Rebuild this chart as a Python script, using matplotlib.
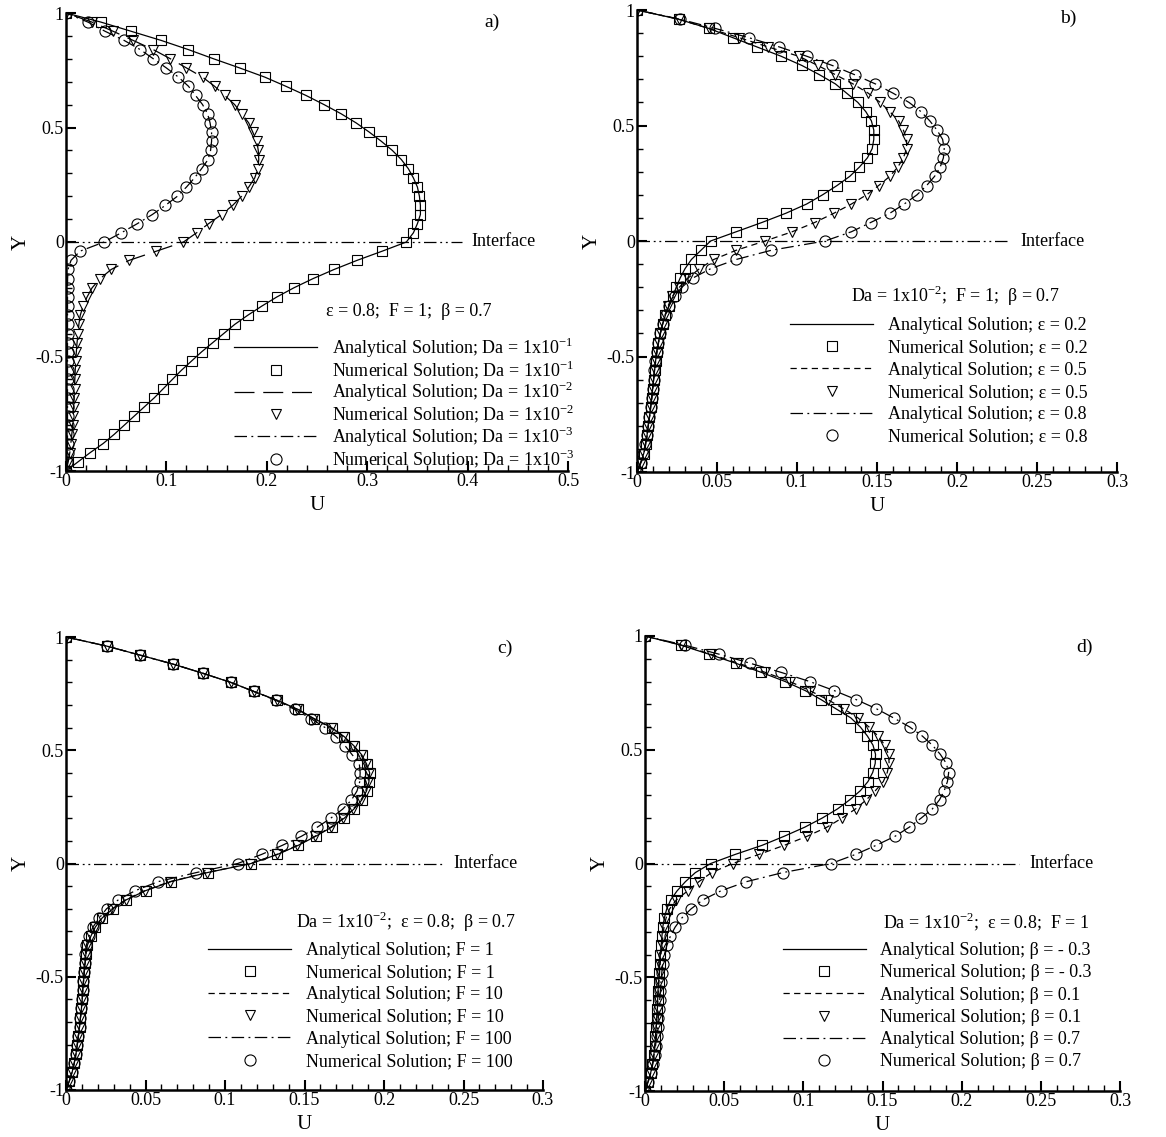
import numpy as np
import matplotlib
matplotlib.use("Agg")
import matplotlib.pyplot as plt
from matplotlib.ticker import MultipleLocator, FuncFormatter

plt.rcParams['font.family'] = ['Liberation Serif', 'DejaVu Serif']
plt.rcParams['mathtext.fontset'] = 'custom'
plt.rcParams['mathtext.rm'] = 'Liberation Serif'
plt.rcParams['axes.unicode_minus'] = False

# Y positions of the grid nodes
y_nodes = [-1.00, -0.96, -0.92, -0.88, -0.84, -0.80, -0.76, -0.72, -0.68, -0.64,
           -0.60, -0.56, -0.52, -0.48, -0.44, -0.40, -0.36, -0.32, -0.28, -0.24,
           -0.20, -0.16, -0.12, -0.08, -0.04, 0.00, 0.04, 0.08, 0.12, 0.16,
           0.20, 0.24, 0.28, 0.32, 0.36, 0.40, 0.44, 0.48, 0.52, 0.56,
           0.60, 0.64, 0.68, 0.72, 0.76, 0.80, 0.84, 0.88, 0.92, 0.96, 1.00]

# a) effect of Da  (eps = 0.8, F = 1, beta = 0.7)
u_da1 = [0, 0.012, 0.024, 0.037, 0.048, 0.058, 0.068, 0.078, 0.088, 0.097,
         0.106, 0.115, 0.125, 0.135, 0.146, 0.157, 0.168, 0.181, 0.195, 0.210,
         0.227, 0.246, 0.267, 0.290, 0.315, 0.339, 0.346, 0.350, 0.353, 0.353,
         0.352, 0.350, 0.346, 0.341, 0.334, 0.325, 0.314, 0.302, 0.289, 0.274,
         0.257, 0.239, 0.219, 0.198, 0.173, 0.147, 0.122, 0.095, 0.065, 0.035, 0]
u_da2 = [0, 0.0022, 0.0038, 0.0048, 0.0058, 0.0066, 0.0072, 0.0077, 0.0081, 0.0085,
         0.0088, 0.0092, 0.0097, 0.0103, 0.0110, 0.0120, 0.0128, 0.0142, 0.0170, 0.021,
         0.026, 0.034, 0.045, 0.063, 0.090, 0.117, 0.130, 0.142, 0.155, 0.166,
         0.175, 0.182, 0.188, 0.191, 0.192, 0.1915, 0.190, 0.186, 0.182, 0.175,
         0.168, 0.158, 0.148, 0.136, 0.120, 0.104, 0.087, 0.067, 0.047, 0.026, 0]
u_da3 = [0, 0.0012, 0.0015, 0.0015, 0.0015, 0.0015, 0.0015, 0.0015, 0.0015, 0.0015,
         0.0015, 0.0015, 0.0015, 0.0015, 0.0015, 0.0015, 0.0015, 0.0015, 0.0015, 0.0015,
         0.0015, 0.0016, 0.002, 0.005, 0.014, 0.038, 0.055, 0.071, 0.086, 0.099,
         0.111, 0.120, 0.128, 0.135, 0.1415, 0.144, 0.145, 0.145, 0.1435, 0.141,
         0.136, 0.129, 0.122, 0.112, 0.100, 0.087, 0.074, 0.058, 0.039, 0.022, 0]

# b) effect of eps  (Da = 1e-2, F = 1, beta = 0.7)
u_eps2 = [0, 0.0025, 0.0042, 0.0055, 0.0063, 0.0070, 0.0078, 0.0085, 0.0092, 0.0098,
          0.0104, 0.0110, 0.0116, 0.0124, 0.0133, 0.0145, 0.0160, 0.0178, 0.0200, 0.0225,
          0.0245, 0.027, 0.030, 0.034, 0.040, 0.046, 0.062, 0.078, 0.093, 0.106,
          0.116, 0.125, 0.133, 0.139, 0.144, 0.147, 0.148, 0.148, 0.1465, 0.143,
          0.138, 0.131, 0.124, 0.114, 0.103, 0.090, 0.075, 0.060, 0.045, 0.026, 0]
u_eps5 = [0, 0.0026, 0.0043, 0.0055, 0.0064, 0.0071, 0.0079, 0.0086, 0.0092, 0.0098,
          0.0104, 0.0110, 0.0117, 0.0125, 0.0135, 0.0147, 0.0160, 0.0175, 0.0195, 0.022,
          0.0265, 0.032, 0.039, 0.048, 0.062, 0.080, 0.097, 0.111, 0.123, 0.134,
          0.1435, 0.151, 0.158, 0.163, 0.1665, 0.1685, 0.1685, 0.1665, 0.1635, 0.158,
          0.152, 0.1445, 0.135, 0.124, 0.113, 0.101, 0.082, 0.064, 0.045, 0.026, 0]
u_eps8 = [0, 0.0022, 0.0037, 0.0052, 0.0062, 0.0070, 0.0078, 0.0085, 0.0092, 0.0099,
          0.0104, 0.0109, 0.0115, 0.0123, 0.0134, 0.0145, 0.0160, 0.0180, 0.0200, 0.0235,
          0.028, 0.035, 0.046, 0.062, 0.084, 0.1175, 0.134, 0.146, 0.158, 0.167,
          0.175, 0.181, 0.186, 0.1895, 0.1915, 0.192, 0.191, 0.1875, 0.183, 0.1775,
          0.170, 0.160, 0.149, 0.136, 0.122, 0.106, 0.089, 0.070, 0.049, 0.027, 0]

# c) effect of F  (Da = 1e-2, eps = 0.8, beta = 0.7)
u_f1 = [0, 0.0021, 0.0039, 0.0052, 0.0063, 0.0071, 0.0078, 0.0085, 0.0091, 0.0097,
        0.0102, 0.0105, 0.0110, 0.0115, 0.0120, 0.0125, 0.0135, 0.0157, 0.0185, 0.0228,
        0.0295, 0.038, 0.050, 0.066, 0.089, 0.1165, 0.133, 0.146, 0.157, 0.167,
        0.175, 0.181, 0.186, 0.189, 0.1905, 0.191, 0.189, 0.186, 0.181, 0.175,
        0.167, 0.156, 0.146, 0.133, 0.118, 0.1035, 0.086, 0.0675, 0.0466, 0.0255, 0]
u_f10 = [0, 0.0021, 0.0039, 0.0052, 0.0063, 0.0071, 0.0078, 0.0085, 0.0091, 0.0097,
         0.0102, 0.0105, 0.0110, 0.0115, 0.0120, 0.0125, 0.0134, 0.0155, 0.0183, 0.0225,
         0.029, 0.0375, 0.0495, 0.0655, 0.0885, 0.116, 0.1325, 0.1455, 0.1565, 0.1665,
         0.1745, 0.1805, 0.1855, 0.1885, 0.190, 0.1905, 0.1885, 0.1855, 0.1805, 0.1745,
         0.1665, 0.1555, 0.1455, 0.1328, 0.118, 0.1035, 0.086, 0.0675, 0.0466, 0.0255, 0]
u_f100 = [0, 0.0021, 0.0039, 0.0052, 0.0063, 0.0071, 0.0078, 0.0085, 0.0091, 0.0097,
          0.0102, 0.0105, 0.0110, 0.0114, 0.0118, 0.0122, 0.0128, 0.0145, 0.0170, 0.021,
          0.0255, 0.033, 0.0435, 0.058, 0.082, 0.108, 0.123, 0.136, 0.148, 0.158,
          0.1665, 0.174, 0.1795, 0.183, 0.1847, 0.185, 0.1845, 0.180, 0.1755, 0.170,
          0.163, 0.154, 0.144, 0.132, 0.118, 0.1035, 0.086, 0.0675, 0.0466, 0.0255, 0]

# d) effect of beta  (Da = 1e-2, eps = 0.8, F = 1)
u_bm3 = [0, 0.0018, 0.0036, 0.0047, 0.0056, 0.0062, 0.0066, 0.0070, 0.0074, 0.0078,
         0.0080, 0.0082, 0.0086, 0.0090, 0.0093, 0.0097, 0.0102, 0.0107, 0.0112, 0.0122,
         0.0137, 0.0162, 0.0203, 0.0255, 0.0318, 0.0415, 0.057, 0.074, 0.088, 0.101,
         0.112, 0.1216, 0.1293, 0.136, 0.1408, 0.1438, 0.1454, 0.1456, 0.144, 0.1405,
         0.136, 0.130, 0.1206, 0.1113, 0.1012, 0.0885, 0.0735, 0.0574, 0.0404, 0.0225, 0]
u_b1 = [0, 0.0019, 0.0037, 0.0048, 0.0057, 0.0063, 0.0067, 0.0071, 0.0075, 0.0079,
        0.0081, 0.0084, 0.0088, 0.0092, 0.0096, 0.0101, 0.0107, 0.0113, 0.0120, 0.0133,
        0.0155, 0.0198, 0.027, 0.034, 0.042, 0.0554, 0.072, 0.088, 0.1025, 0.115,
        0.1245, 0.133, 0.1398, 0.1455, 0.1505, 0.153, 0.1542, 0.1538, 0.1515, 0.1472,
        0.1415, 0.1345, 0.1255, 0.1155, 0.104, 0.0915, 0.076, 0.059, 0.0415, 0.023, 0]
u_b7 = [0, 0.0020, 0.0037, 0.0050, 0.0060, 0.0067, 0.0073, 0.0079, 0.0084, 0.0089,
        0.0093, 0.0097, 0.0101, 0.0106, 0.0112, 0.0123, 0.0138, 0.0160, 0.0190, 0.0232,
        0.029, 0.0365, 0.048, 0.064, 0.087, 0.1175, 0.133, 0.146, 0.158, 0.167,
        0.1745, 0.1815, 0.186, 0.189, 0.191, 0.1918, 0.1903, 0.1865, 0.1815, 0.1752,
        0.1672, 0.157, 0.1462, 0.1335, 0.1195, 0.104, 0.086, 0.0665, 0.0468, 0.025, 0]

panels = ['a)', 'b)', 'c)', 'd)']
headers = ['\u03b5 = 0.8;  F = 1;  \u03b2 = 0.7',
           'Da = 1x10$^{-2}$;  F = 1;  \u03b2 = 0.7',
           'Da = 1x10$^{-2}$;  \u03b5 = 0.8;  \u03b2 = 0.7',
           'Da = 1x10$^{-2}$;  \u03b5 = 0.8;  F = 1']
series = [[u_da1, u_da2, u_da3], [u_eps2, u_eps5, u_eps8],
          [u_f1, u_f10, u_f100], [u_bm3, u_b1, u_b7]]
case_labels = [['Da = 1x10$^{-1}$', 'Da = 1x10$^{-2}$', 'Da = 1x10$^{-3}$'],
               ['\u03b5 = 0.2', '\u03b5 = 0.5', '\u03b5 = 0.8'],
               ['F = 1', 'F = 10', 'F = 100'],
               ['\u03b2 = - 0.3', '\u03b2 = 0.1', '\u03b2 = 0.7']]
u_max = [0.5, 0.3, 0.3, 0.3]
u_major = [0.1, 0.05, 0.05, 0.05]
iface_end = [0.394, 0.233, 0.237, 0.236]

# figure layout (pixels of the 1166x1137 image)
W, H = 1166, 1137
boxes = [(66, 568, 13, 471), (637, 1117, 10, 472),
         (66, 543, 637, 1090), (645, 1120, 636, 1091)]
leg_anchor = [(0.335, 0.296), (0.319, 0.335), (0.298, 0.327), (0.29, 0.327)]
leg_spacing = [-0.05, 0.29, 0.29, 0.29]
head_pos = [(0.683, 0.349), (0.663, 0.381), (0.713, 0.371), (0.718, 0.371)]
tag_pos = [(0.849, 0.98), (0.898, 0.983), (0.92, 0.976), (0.926, 0.974)]

long_dash = (0, (16, 7))
short_dash = (0, (5, 3.5))
dash_dot = (0, (10, 3.5, 1.5, 3.5))
dash_dot_dot = (0, (10, 3, 1.5, 3, 1.5, 3))

fig = plt.figure(figsize=(W / 100, H / 100), dpi=100)
fs = 13

for i in range(4):
    x0, x1, yt, yb = boxes[i]
    ax = fig.add_axes([x0 / W, 1 - yb / H, (x1 - x0) / W, (yb - yt) / H])
    styles = ['-', long_dash if i == 0 else short_dash, dash_dot]
    markers = ['s', 'v', 'o']
    msize = [6.5, 7, 8]
    handles = []
    labels = []
    for k in range(3):
        ln, = ax.plot(series[i][k], y_nodes, color='black', lw=0.9, ls=styles[k])
        mk, = ax.plot(series[i][k], y_nodes, ls='none', marker=markers[k], ms=msize[k],
                      mfc='none', mec='black', mew=0.8)
        handles += [ln, mk]
        labels += ['Analytical Solution; ' + case_labels[i][k],
                   'Numerical Solution; ' + case_labels[i][k]]

    ax.hlines(0, 0, iface_end[i], color='black', lw=0.9, linestyles=[dash_dot_dot])
    ax.text(iface_end[i] * 1.02 + 0.002, 0, 'Interface', fontsize=fs, va='center', ha='left')

    ax.set_xlim(0, u_max[i])
    ax.set_ylim(-1, 1)
    for s in ['top', 'right']:
        ax.spines[s].set_visible(False)
    for s in ['left', 'bottom']:
        ax.spines[s].set_linewidth(1.8)
    ax.xaxis.set_major_locator(MultipleLocator(u_major[i]))
    ax.xaxis.set_minor_locator(MultipleLocator(u_major[i] / 5))
    ax.yaxis.set_major_locator(MultipleLocator(0.5))
    ax.yaxis.set_minor_locator(MultipleLocator(0.1))
    ax.xaxis.set_major_formatter(FuncFormatter(lambda v, p: '%g' % round(v, 3)))
    ax.yaxis.set_major_formatter(FuncFormatter(lambda v, p: '%g' % round(v, 3)))
    ax.tick_params(which='major', direction='in', length=7, width=1.5, labelsize=fs, pad=1.5)
    ax.tick_params(which='minor', direction='in', length=4, width=1.0)
    ax.tick_params(top=False, right=False, which='both')

    ax.set_xlabel('U', fontsize=fs + 2, labelpad=4)
    ax.set_ylabel('Y', fontsize=fs + 2, labelpad=4)

    leg = ax.legend(handles, labels, loc='upper left', bbox_to_anchor=leg_anchor[i],
                    frameon=False, fontsize=fs, numpoints=1, handlelength=4.6,
                    handletextpad=0.8, labelspacing=leg_spacing[i], borderpad=0,
                    borderaxespad=0)
    ax.text(head_pos[i][0], head_pos[i][1], headers[i], transform=ax.transAxes,
            fontsize=fs, ha='center', va='center')
    ax.text(tag_pos[i][0], tag_pos[i][1], panels[i], transform=ax.transAxes,
            fontsize=fs + 1, ha='center', va='center')

fig.savefig('out.png', dpi=100)
